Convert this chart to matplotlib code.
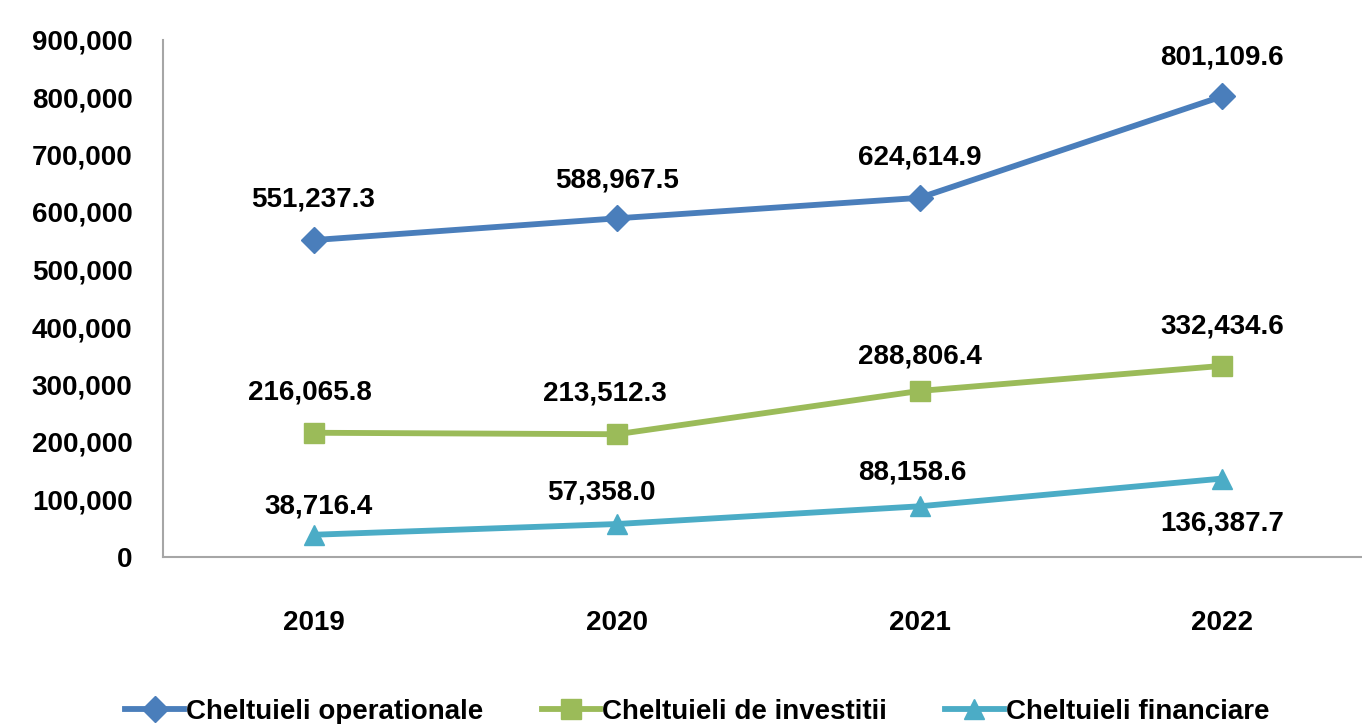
import matplotlib.pyplot as plt
from matplotlib.ticker import FuncFormatter

years = ["2019", "2020", "2021", "2022"]
operationale = [551237.3, 588967.5, 624614.9, 801109.6]
investitii = [216065.8, 213512.3, 288806.4, 332434.6]
financiare = [38716.4, 57358.0, 88158.6, 136387.7]
names = ["Cheltuieli operationale", "Cheltuieli de investitii", "Cheltuieli financiare"]

plt.rcParams['font.family'] = ['Liberation Sans', 'DejaVu Sans']
plt.rcParams['font.weight'] = 'bold'

fig = plt.figure(figsize=(13.62, 7.24), dpi=100)
ax = fig.add_axes([163/1362, 167/724, 1210.5/1362, 517.5/724])

x = list(range(len(years)))
ax.plot(x, operationale, color="#4A7EBB", lw=4.2, marker="D", ms=13, label=names[0])
ax.plot(x, investitii, color="#9BBB59", lw=4.2, marker="s", ms=14, label=names[1])
ax.plot(x, financiare, color="#4BACC6", lw=4.2, marker="^", ms=14, label=names[2])

ax.set_xlim(-0.5, 3.5)
ax.set_ylim(0, 900000)
ax.set_yticks(range(0, 900001, 100000))
ax.yaxis.set_major_formatter(FuncFormatter(lambda v, p: f"{int(v):,}"))
ax.set_xticks(x)
ax.set_xticklabels(years)
ax.tick_params(axis='both', length=0, labelsize=20)
ax.tick_params(axis='x', pad=38)
ax.tick_params(axis='y', pad=22)
for s in ['top', 'right']:
    ax.spines[s].set_visible(False)
for s in ['left', 'bottom']:
    ax.spines[s].set_color("#A6A6A6")
    ax.spines[s].set_linewidth(1.5)

# label offsets in points (dx, dy)
off1 = [(-1, 29), (0, 27), (0, 29), (0, 28)]
off2 = [(-3, 29), (-9, 29), (0, 25), (0, 28)]
off3 = [(3, 20), (-11, 23), (-5, 24), (0, -32)]
for vals, offs in [(operationale, off1), (investitii, off2), (financiare, off3)]:
    for i, v in enumerate(vals):
        ax.annotate(f"{v:,.1f}", (i, v), xytext=offs[i], textcoords="offset points",
                    ha="center", va="center", fontsize=20, fontweight="bold")

fig.legend(loc="center", bbox_to_anchor=(0.512, 0.0166), ncol=3, frameon=False,
           fontsize=20, handlelength=2.1, handletextpad=0.08, columnspacing=2.1)

fig.savefig("out.png", dpi=100)
